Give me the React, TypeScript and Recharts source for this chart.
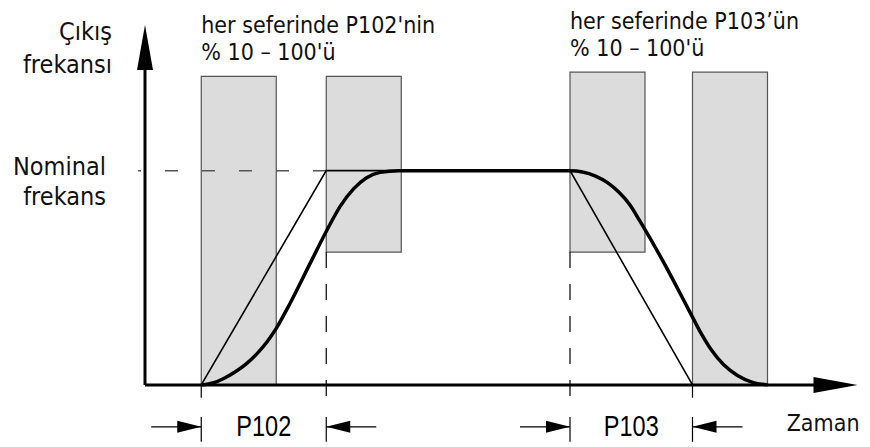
import {
  ComposedChart,
  Line,
  XAxis,
  YAxis,
  ReferenceArea,
  ReferenceLine,
  ReferenceDot,
} from "recharts";

// time (arbitrary units) vs output frequency (Hz)
const NOMINAL = 50;
const T_END = 57;
const F_TOP = 84;

const rampLinear = [
  { t: 4.5, f: 0 },
  { t: 14.5, f: 50 },
  { t: 34, f: 50 },
  { t: 43.8, f: 0 },
];

const rampS = [
  { t: 4.5, f: 0 },
  { t: 5.5, f: 0.5 },
  { t: 6.3, f: 1.5 },
  { t: 7.2, f: 3.0 },
  { t: 8.1, f: 4.9 },
  { t: 9.0, f: 7.4 },
  { t: 9.8, f: 10.2 },
  { t: 10.5, f: 13.2 },
  { t: 11.6, f: 19.0 },
  { t: 13.2, f: 28.3 },
  { t: 14.5, f: 35.8 },
  { t: 15.6, f: 41.6 },
  { t: 16.7, f: 45.8 },
  { t: 17.7, f: 48.3 },
  { t: 18.8, f: 49.6 },
  { t: 20.3, f: 50 },
  { t: 34, f: 50 },
  { t: 35, f: 49.7 },
  { t: 36, f: 48.8 },
  { t: 37, f: 47.2 },
  { t: 37.9, f: 45 },
  { t: 38.8, f: 42 },
  { t: 39.6, f: 38.2 },
  { t: 41.7, f: 27.5 },
  { t: 43.5, f: 17.5 },
  { t: 44.4, f: 12.5 },
  { t: 45.3, f: 8.2 },
  { t: 46.3, f: 4.7 },
  { t: 47.4, f: 2.2 },
  { t: 48.6, f: 0.6 },
  { t: 49.8, f: 0 },
];

// shaded rounding windows
const windows = [
  { x1: 4.5, x2: 10.5, y1: 0, y2: 72 },
  { x1: 14.5, x2: 20.5, y1: 31, y2: 72 },
  { x1: 34, x2: 40, y1: 31, y2: 73 },
  { x1: 43.8, x2: 49.8, y1: 0, y2: 73 },
];

const spans = [
  { name: "P102", from: 4.5, to: 14.5 },
  { name: "P103", from: 34, to: 43.8 },
];

const notes = [
  { at: 4.5, top: 72, lines: ["her seferinde P102'nin", "% 10 – 100'ü"] },
  { at: 34, top: 73, lines: ["her seferinde P103’ün", "% 10 – 100'ü"] },
];

const yTitle = ["Çıkış", "frekansı"];
const nominalLabel = ["Nominal", "frekans"];
const xTitle = "Zaman";

const FONT = "'DejaVu Sans Condensed', 'DejaVu Sans', sans-serif";
const DIM_Y = -9.8;

const textLines =
  (lines: string[], dx: number, dy: number, gap: number, size: number, anchor: string) =>
  (p: any) => (
    <text
      x={p.cx + dx}
      y={p.cy + dy}
      fontFamily={FONT}
      fontStretch="condensed"
      fontSize={size}
      fill="#111"
      textAnchor={anchor}
    >
      {lines.map((l, i) => (
        <tspan key={i} x={p.cx + dx} dy={i === 0 ? 0 : gap}>
          {l}
        </tspan>
      ))}
    </text>
  );

const arrowUp = (p: any) => (
  <polygon points={`${p.cx},${p.cy} ${p.cx - 8},${p.cy + 45} ${p.cx + 8},${p.cy + 45}`} fill="#000" />
);
const arrowRight = (p: any) => (
  <polygon points={`${p.cx},${p.cy} ${p.cx - 44},${p.cy - 8} ${p.cx - 44},${p.cy + 8}`} fill="#000" />
);
const dimRight = (p: any) => (
  <polygon points={`${p.cx},${p.cy} ${p.cx - 24},${p.cy - 6} ${p.cx - 24},${p.cy + 6}`} fill="#000" />
);
const dimLeft = (p: any) => (
  <polygon points={`${p.cx},${p.cy} ${p.cx + 24},${p.cy - 6} ${p.cx + 24},${p.cy + 6}`} fill="#000" />
);
const spanLabel = (name: string) => (p: any) => (
  <text
    x={p.cx}
    y={p.cy + 9}
    fontFamily="'Liberation Sans Narrow', 'Liberation Sans', Arial, sans-serif"
    fontSize={29}
    textAnchor="middle"
    textLength={55}
    lengthAdjust="spacingAndGlyphs"
    fill="#000"
  >
    {name}
  </text>
);

export default function App() {
  return (
    <div style={{ position: "absolute", left: 0, top: 0, background: "#fff" }}>
      <ComposedChart
        width={870}
        height={447}
        margin={{ top: 25, right: 12.5, bottom: 0, left: 135 }}
      >
        <XAxis dataKey="t" type="number" domain={[-0.8, T_END]} allowDataOverflow hide />
        <YAxis type="number" domain={[-14.5, F_TOP]} allowDataOverflow hide />

        {windows.map((w, i) => (
          <ReferenceArea
            key={i}
            x1={w.x1}
            x2={w.x2}
            y1={w.y1}
            y2={w.y2}
            fill="#dcdcdc"
            fillOpacity={1}
            stroke="#555"
            strokeWidth={1.2}
            ifOverflow="visible"
          />
        ))}

        {/* nominal level, dashed */}
        <ReferenceLine
          segment={[{ x: -0.56, y: NOMINAL }, { x: rampLinear[1].t, y: NOMINAL }]}
          stroke="#555"
          strokeWidth={1.5}
          strokeDasharray="13 24"
          strokeDashoffset={10}
          ifOverflow="visible"
        />
        {/* dashed guides below the inner windows */}
        {[spans[0].to, spans[1].from].map((x, i) => (
          <ReferenceLine
            key={"g" + i}
            segment={[{ x, y: 31 }, { x, y: -4.2 }]}
            stroke="#000"
            strokeWidth={1.2}
            strokeDasharray="16 16"
            ifOverflow="visible"
          />
        ))}
        {/* short ticks under the axis */}
        {[spans[0].from, spans[1].to].map((x, i) => (
          <ReferenceLine
            key={"k" + i}
            segment={[{ x, y: 0 }, { x, y: -3 }]}
            stroke="#000"
            strokeWidth={1.2}
            ifOverflow="visible"
          />
        ))}

        {/* dimension marks */}
        {spans.map((s) => (
          <ReferenceLine
            key={s.name + "a"}
            segment={[{ x: s.from - 4, y: DIM_Y }, { x: s.from, y: DIM_Y }]}
            stroke="#000"
            strokeWidth={1.3}
            ifOverflow="visible"
          />
        ))}
        {spans.map((s) => (
          <ReferenceLine
            key={s.name + "b"}
            segment={[{ x: s.to, y: DIM_Y }, { x: s.to + 4, y: DIM_Y }]}
            stroke="#000"
            strokeWidth={1.3}
            ifOverflow="visible"
          />
        ))}
        {spans.flatMap((s) =>
          [s.from, s.to].map((x, j) => (
            <ReferenceLine
              key={s.name + "t" + j}
              segment={[{ x, y: -7.5 }, { x, y: -13.3 }]}
              stroke="#000"
              strokeWidth={1.2}
              ifOverflow="visible"
            />
          ))
        )}
        {spans.map((s) => (
          <ReferenceDot key={s.name + "r"} x={s.from} y={DIM_Y} r={0} shape={dimRight} ifOverflow="visible" />
        ))}
        {spans.map((s) => (
          <ReferenceDot key={s.name + "l"} x={s.to} y={DIM_Y} r={0} shape={dimLeft} ifOverflow="visible" />
        ))}
        {spans.map((s) => (
          <ReferenceDot
            key={s.name + "n"}
            x={(s.from + s.to) / 2}
            y={DIM_Y}
            r={0}
            shape={spanLabel(s.name)}
            ifOverflow="visible"
          />
        ))}

        {/* axes */}
        <ReferenceLine
          segment={[{ x: 0, y: 0 }, { x: T_END - 2, y: 0 }]}
          stroke="#000"
          strokeWidth={3}
          ifOverflow="visible"
        />
        <ReferenceLine
          segment={[{ x: 0, y: 0 }, { x: 0, y: F_TOP - 5 }]}
          stroke="#000"
          strokeWidth={3}
          ifOverflow="visible"
        />
        <ReferenceDot x={T_END} y={0} r={0} shape={arrowRight} ifOverflow="visible" />
        <ReferenceDot x={0} y={F_TOP} r={0} shape={arrowUp} ifOverflow="visible" />

        <Line
          data={rampLinear}
          dataKey="f"
          type="linear"
          stroke="#000"
          strokeWidth={1.6}
          dot={false}
          isAnimationActive={false}
        />
        <Line
          data={rampS}
          dataKey="f"
          type="monotone"
          stroke="#000"
          strokeWidth={3.5}
          dot={false}
          isAnimationActive={false}
        />

        {/* texts */}
        <ReferenceDot x={0} y={F_TOP} r={0} shape={textLines(yTitle, -33, 15, 33, 25, "end")} ifOverflow="visible" />
        <ReferenceDot x={0} y={NOMINAL} r={0} shape={textLines(nominalLabel, -39, 4, 30, 25, "end")} ifOverflow="visible" />
        <ReferenceDot x={T_END} y={0} r={0} shape={textLines([xTitle], 2, 46, 0, 23, "end")} ifOverflow="visible" />
        {notes.map((n, i) => (
          <ReferenceDot
            key={"note" + i}
            x={n.at}
            y={n.top}
            r={0}
            shape={textLines(n.lines, 0, -43, 27, 23, "start")}
            ifOverflow="visible"
          />
        ))}
      </ComposedChart>
    </div>
  );
}
